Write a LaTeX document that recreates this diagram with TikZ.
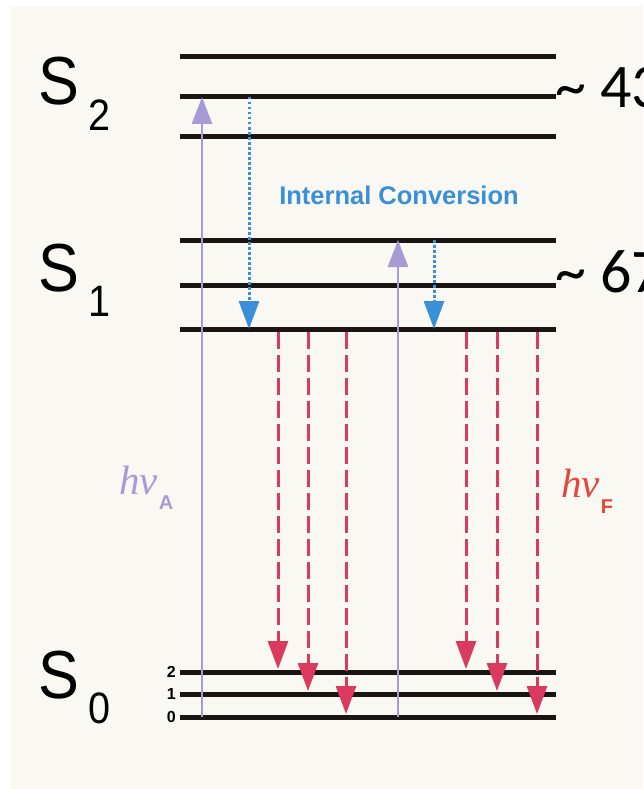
\documentclass[tikz,border=0pt]{standalone}
\usepackage{fontspec}
\setmainfont{Liberation Serif}
\setsansfont{Liberation Sans}
\newfontfamily\calib{Carlito}
\usetikzlibrary{arrows.meta}
\definecolor{paper}{HTML}{FAF8F2}
\definecolor{levelink}{HTML}{1A1512}
\definecolor{lavender}{HTML}{A79BD6}
\definecolor{icblue}{HTML}{3A8FD8}
\definecolor{fluorred}{HTML}{D93A5E}
\definecolor{hvred}{HTML}{E8443A}
\newcommand{\fsz}[1]{\fontsize{#1}{#1}\selectfont}
\newcommand{\statename}[1]{\scalebox{0.9}[1]{\fsz{68}S}\hspace{9pt}\raisebox{-25pt}{\scalebox{0.9}[1]{\fsz{44}#1}}}
\tikzset{
  level/.style={draw=levelink,line width=5pt},
  absorb/.style={draw=lavender,line width=2.7pt,
    -{Triangle[length=27pt,width=20pt]}},
  ic/.style={draw=icblue,line width=3pt,dash pattern=on 2.5pt off 2.5pt,
    -{Triangle[length=28pt,width=20pt]}},
  fluor/.style={draw=fluorred,line width=3pt,dash pattern=on 17pt off 6pt,
    -{Triangle[length=28pt,width=20pt]}},
  statelabel/.style={inner sep=0pt,anchor=base west,font=\sffamily},
  energy/.style={inner sep=0pt,anchor=base west,font=\calib\fsz{62}},
  vib/.style={inner sep=0pt,anchor=east,font=\sffamily\bfseries\fsz{16}},
  hv/.style={inner sep=0pt,anchor=base west,font=\itshape\fsz{41}}
}
\begin{document}
\begin{tikzpicture}[x=1pt,y=-1pt]
\useasboundingbox (0,0) rectangle (643,789);
\fill[white] (0,0) rectangle (643,789);
\fill[paper] (10,6) rectangle (643,789);
% energy levels
\foreach \y/\n in {57/s2c,97/s2b,136/s2a,240/s1c,285/s1b,329/s1a,672/s02,694/s01,717/s00}
  \draw[level] (180,\y) coordinate (\n) -- (556,\y);
\node[vib] (v2) at (176,672) {2};
\node[vib] (v1) at (176,694) {1};
\node[vib] (v0) at (176,717) {0};
% state labels
\node[statelabel] (lab2) at (38,105) {\statename{2}};
\node[statelabel] (lab1) at (38,291) {\statename{1}};
\node[statelabel] (lab0) at (38,698) {\statename{0}};
\node[energy] (e2) at (555,108) {\textasciitilde{} 43};
\node[energy] (e1) at (555,292) {\textasciitilde{} 67};
% absorption
\draw[absorb] ([xshift=22pt]s00) -- ([xshift=22pt]s2b);
\draw[absorb] ([xshift=218pt]s00) -- ([xshift=218pt]s1c);
% internal conversion
\draw[ic] ([xshift=69pt]s2b) -- ([xshift=69pt]s1a);
\draw[ic] ([xshift=254pt]s1c) -- ([xshift=254pt]s1a);
\node[font=\sffamily\bfseries\fsz{25.5},text=icblue] (ictext) at (399,195) {Internal Conversion};
% fluorescence
\foreach \x/\t in {98/s02,128/s01,166/s00,286/s02,317/s01,357/s00}
  \draw[fluor] ([xshift=\x pt,yshift=-3pt]s1a) -- ([xshift=\x pt,yshift=3pt]\t);
\node[hv,text=lavender] (hva) at (119,494) {hv\hspace{1pt}\raisebox{-15pt}{\upshape\sffamily\bfseries\fsz{20}A}};
\node[hv,text=hvred] (hvf) at (561,497) {hv\hspace{1pt}\raisebox{-16pt}{\upshape\sffamily\bfseries\fsz{20}F}};
\end{tikzpicture}
\end{document}
